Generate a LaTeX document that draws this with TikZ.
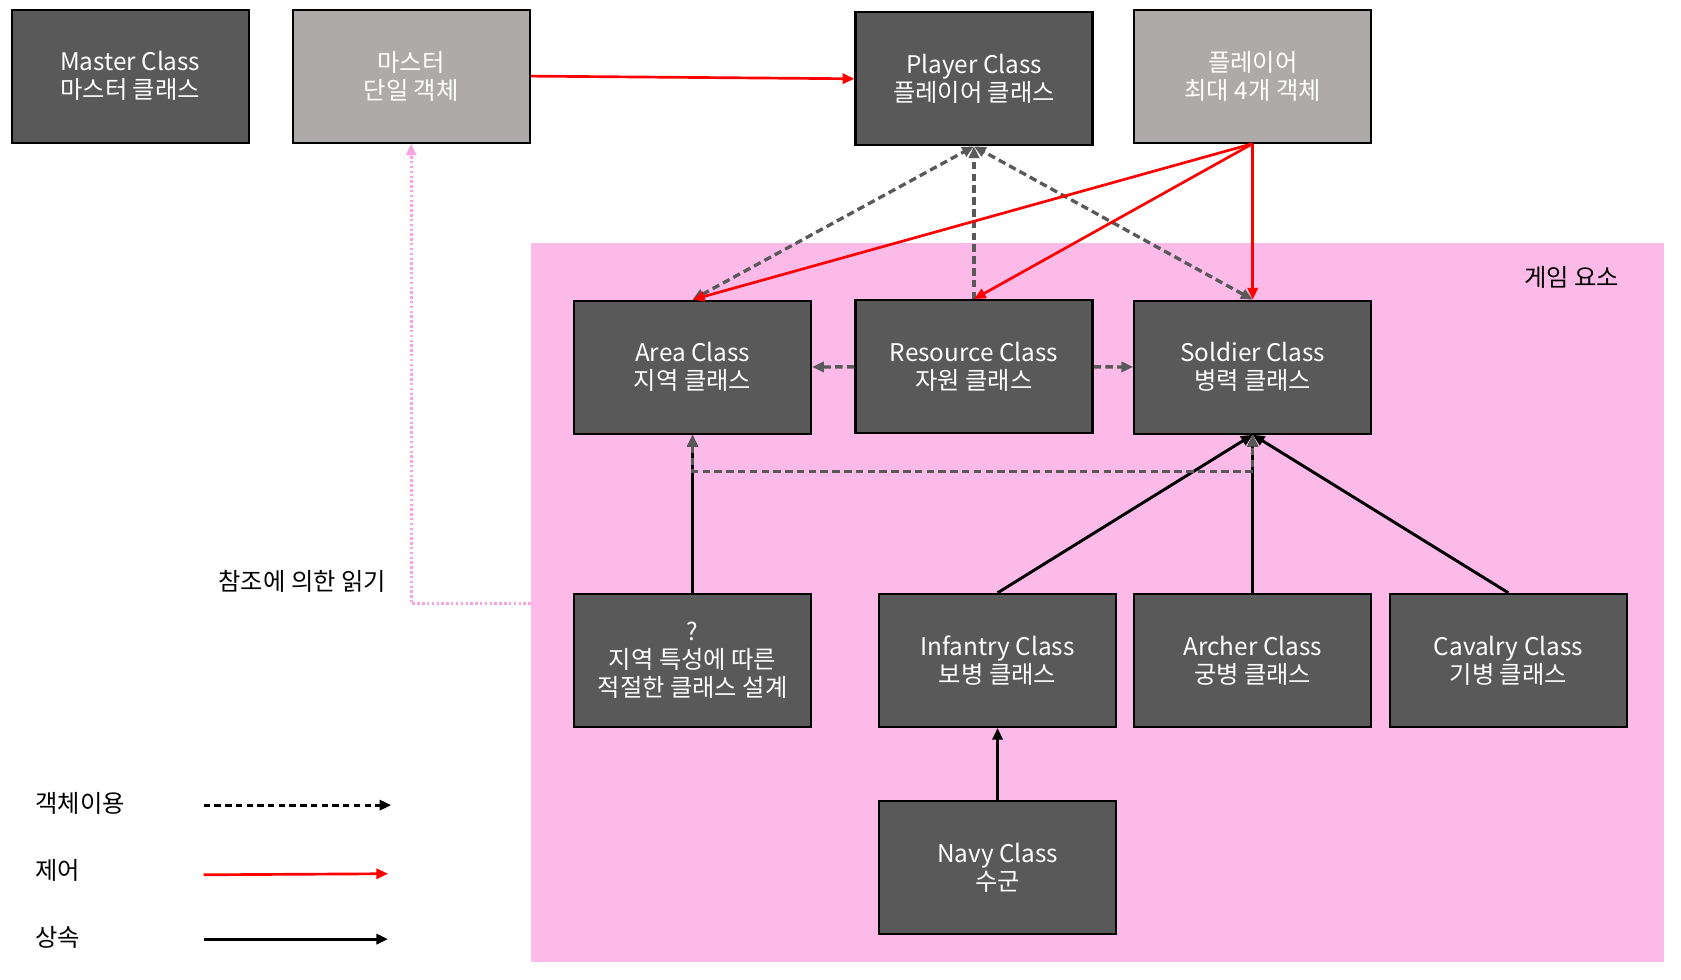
\documentclass[tikz,border=0pt]{standalone}
\usepackage{fontspec}
\setmainfont{Noto Sans CJK KR}
\usetikzlibrary{arrows.meta}
\definecolor{boxdark}{RGB}{89,89,89}
\definecolor{boxlight}{RGB}{174,170,170}
\definecolor{gamebg}{RGB}{252,186,233}
\definecolor{refpink}{RGB}{246,164,226}
\definecolor{ctrlred}{RGB}{255,0,0}

\begin{document}
\begin{tikzpicture}[x=0.2mm,y=-0.2mm,
  every node/.style={font=\fontsize{12.9}{14.8}\selectfont},
  >={Triangle[length=2.2mm,width=1.9mm]},
  clsbox/.style={draw=black,line width=0.4mm,fill=boxdark,text=white,align=center,
    minimum width=44.2mm,minimum height=24.8mm,inner sep=0pt},
  objbox/.style={clsbox,fill=boxlight},
  usearrow/.style={line width=0.62mm,boxdark,dash pattern=on 1.4mm off 0.8mm},
  ctrlarrow/.style={->,line width=0.5mm,ctrlred},
  inharrow/.style={->,line width=0.55mm,black},
  refarrow/.style={->,line width=0.55mm,refpink,dash pattern=on 0.45mm off 0.45mm}]
  \useasboundingbox (0,0) rectangle (1568,914);
  % game elements area
  \node[fill=gamebg,minimum width=211.4mm,minimum height=134mm,inner sep=0pt](game) at(1023.5,562){};
  \node(gamelbl) at(1466,259){게임 요소};
  % top row
  \node[clsbox](master) at(121.5,71){Master Class\\마스터 클래스};
  \node[objbox](mobj) at(383.5,71){마스터\\단일 객체};
  \node[clsbox](player) at(908.5,73.5){Player Class\\플레이어 클래스};
  \node[objbox](pobj) at(1168.5,71){플레이어\\최대 4개 객체};
  % game classes
  \node[clsbox](area) at(646,342.5){Area Class\\지역 클래스};
  \node[clsbox](res) at(908.5,342){Resource Class\\자원 클래스};
  \node[clsbox](soldier) at(1168.5,342.5){Soldier Class\\병력 클래스};
  \node[clsbox](unk) at(646,616){?\\지역 특성에 따른\\적절한 클래스 설계};
  \node[clsbox](infantry) at(930.5,616){Infantry Class\\보병 클래스};
  \node[clsbox](archer) at(1168.5,616){Archer Class\\궁병 클래스};
  \node[clsbox](cavalry) at(1407,616){Cavalry Class\\기병 클래스};
  \node[clsbox](navy) at(930.5,809.5){Navy Class\\수군};
  % inheritance
  \draw[inharrow](unk)--(area);
  \draw[inharrow](infantry.north)--(soldier.south);
  \draw[inharrow](archer)--(soldier);
  \draw[inharrow](cavalry.north)--(soldier.south);
  \draw[inharrow](navy)--(infantry);
  % object use
  \draw[usearrow,<->](area.north)--(player.south);
  \draw[usearrow,<->](soldier.north)--(player.south);
  \draw[usearrow,->](res.north)--(player.south);
  \draw[usearrow,->](res)--(area);
  \draw[usearrow,->](res)--(soldier);
  \draw[usearrow,<->](area.south)--++(0,34)-|(soldier.south);
  % control
  \draw[ctrlarrow](mobj.east)--(player.west);
  \draw[ctrlarrow](pobj.south)--(area.north);
  \draw[ctrlarrow](pobj.south)--(res.north);
  \draw[ctrlarrow](pobj.south)--(soldier.north);
  % read by reference
  \coordinate(refpt) at(495,563);
  \draw[refarrow](refpt)-|(mobj.south);
  \node(reflbl) at(282,542){참조에 의한 읽기};
  % legend
  \node[anchor=west](lgUse) at(27,749){객체이용};
  \node[anchor=west](lgCtrl) at(27,812){제어};
  \node[anchor=west](lgInh) at(27,874){상속};
  \coordinate(lu1) at(190,751); \coordinate(lu2) at(365,751);
  \coordinate(lc1) at(190,816); \coordinate(lc2) at(362,815);
  \coordinate(li1) at(190,876); \coordinate(li2) at(362,876);
  \draw[usearrow,->,black,line width=0.55mm,dash pattern=on 1.2mm off 0.8mm](lu1)--(lu2);
  \draw[ctrlarrow](lc1)--(lc2);
  \draw[inharrow](li1)--(li2);
\end{tikzpicture}
\end{document}
